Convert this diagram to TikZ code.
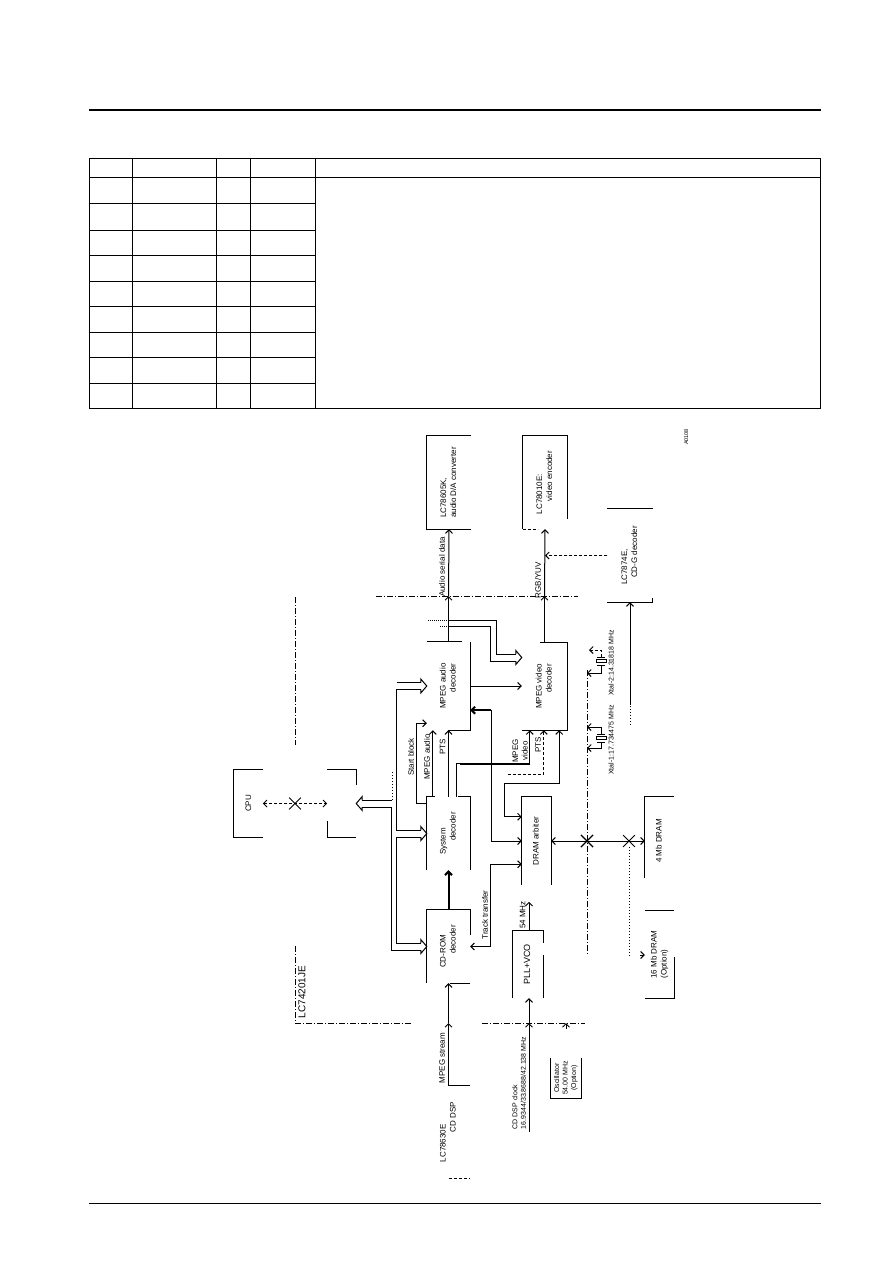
\documentclass[tikz,border=0pt]{standalone}
\usepackage{graphicx}
\usepackage{fontspec}
\setmainfont{Liberation Sans}
\usetikzlibrary{arrows.meta,shapes.misc,calc}
\newcommand{\vtext}[2][l]{\rotatebox{90}{\begin{tabular}{@{}#1@{}}#2\end{tabular}}}
\tikzstyle{blockbox} = [rectangle, inner sep=0pt, font=\fontsize{8}{10}\selectfont]
\tikzstyle{siglabel} = [inner sep=0pt, font=\fontsize{8}{9.5}\selectfont]
\tikzstyle{smalllabel} = [inner sep=0pt, font=\fontsize{7}{8.5}\selectfont]
\tikzstyle{sig} = [line width=1pt]
\tikzstyle{heavy} = [line width=2pt]
\tikzstyle{chipline} = [line width=1pt, dash pattern=on 6pt off 2pt on 1pt off 2pt]
\tikzstyle{crossmark} = [cross out, draw, line width=0.8pt, inner sep=0pt, minimum size=11pt]
\tikzset{
  bushead/.pic={\draw[sig] (-6,-3.5) -- (-6,-7) -- (0,0) -- (-6,7) -- (-6,3.5);},
  xtalsym/.pic={
    \draw[sig] (-4,-4) -- (4,-4) (-4,4) -- (4,4);
    \draw[sig] (-5,-1.5) rectangle (5,1.5);}
}

\begin{document}
\begin{tikzpicture}[x=1pt, y=-1pt, >={Straight Barb[length=3.5pt,width=7pt]}]
\useasboundingbox (0,0) rectangle (892,1261);
\fill[white] (0,0) rectangle (892,1261);

% Page rules
\draw[heavy] (89,110) -- (821,110);
\draw[sig] (89,1203) -- (821,1203);

% Table grid
\draw[sig] (89.5,158.5) rectangle (820.5,408);
\draw[sig] (89.5,177) -- (820.5,177);
\foreach \rowy in {203,230,255,281,306,332,357,383}
  \draw[sig] (89.5,\rowy) -- (315,\rowy);
\foreach \colx in {132,216,250,315}
  \draw[sig] (\colx,158.5) -- (\colx,408);

% Chip boundary
\coordinate (chiptop) at (376,596);
\coordinate (chipbot) at (482,1023);
\coordinate (chipright) at (587,670);
\draw[chipline] (chiptop) -- (578,596);
\draw[chipline] (295,597) -- (295,745);
\draw[chipline] (295,946) -- (295,1023) -- (412,1023);
\draw[chipline] (chipbot) -- (585,1023);
\draw[chipline] (chipright) -- (587,955);
\node[inner sep=0pt, font=\fontsize{10}{12}\selectfont] (chipname) at (303,992) {\vtext{LC74201JE}};
\node[inner sep=0pt, font=\fontsize{5.5}{6}\selectfont] (figcode) at (687,437) {\vtext{A0108}};

% Blocks
\node[blockbox, minimum width=44pt, minimum height=93pt] (audiodac) at (449,482.5) {\vtext{LC78605K,\\audio D/A converter}};
\node[blockbox, minimum width=44pt, minimum height=93pt] (encoder) at (545,482.5) {\vtext{LC78010E:\\\hspace*{13pt}video encoder}};
\node[blockbox, minimum width=45pt, minimum height=93pt] (cdg) at (630,555.5) {\vtext{LC7874E,\\\hspace*{7pt}CD-G decoder}};
\node[blockbox, minimum width=43pt, minimum height=88pt] (audio) at (448.5,686) {\vtext[r]{MPEG audio\\decoder}};
\node[blockbox, minimum width=45pt, minimum height=87pt] (video) at (544.5,686.5) {\vtext[r]{MPEG video\\decoder}};
\node[blockbox, minimum width=43pt, minimum height=73pt] (system) at (448.5,833.5) {\vtext{System\\\hspace*{14pt}decoder}};
\node[blockbox, minimum width=43pt, minimum height=73pt] (cdrom) at (448.5,946.5) {\vtext{CD-ROM\\\hspace*{14pt}decoder}};
\node[blockbox, minimum width=29pt, minimum height=88pt] (arbiter) at (536.5,841) {\vtext{DRAM arbiter}};
\node[blockbox, minimum width=30pt, minimum height=67pt, font=\fontsize{9}{11}\selectfont] (pll) at (528,964.5) {\vtext{PLL+VCO}};
\node[blockbox, minimum width=29pt, minimum height=88pt] (dramfour) at (659.5,841) {\vtext{4 Mb DRAM}};
\node[blockbox, minimum width=29pt, minimum height=87pt] (dramsix) at (659.5,954.5) {\vtext{16 Mb DRAM\\(Option)}};
\node[blockbox, minimum width=122pt, minimum height=67pt] (cpu) at (295,803.5) {};
\node[blockbox] (cpulabel) at (249,803.5) {\vtext{CPU}};
\node[blockbox, minimum width=43pt, minimum height=92pt] (cddsp) at (448.5,1132) {\vtext{LC78630E\\\hspace*{30pt}CD DSP}};
\node[blockbox, minimum width=30pt, minimum height=40pt, font=\fontsize{7}{8.5}\selectfont] (osc) at (566,1078) {\vtext[c]{Oscillator\\54.00 MHz\\(Option)}};

% Block outlines
\draw[sig] (audiodac.north east) -- (audiodac.north west) -- (audiodac.south west) -- (audiodac.south east);
\draw[sig] ([yshift=10pt]encoder.south east) -- (encoder.north east) -- (encoder.north west) -- (encoder.south west);
\draw[sig, densely dashed] (encoder.south west) -- ++(15,0);
\draw[sig] (cdg.north west) -- (cdg.north east);
\draw[sig] (cdg.south west) -- (cdg.south east) -- ++(0,-4);
\draw[sig] (audio.north west) -- ([xshift=-8pt]audio.north east);
\draw[sig] (audio.north east) -- (audio.south east) -- ([xshift=-22pt]audio.south east);
\draw[sig] ([xshift=18pt]video.north west) -- (video.north east) -- (video.south east) -- (video.south west);
\draw[sig] (system.south west) -- (system.north west) -- ([xshift=8pt]system.north west);
\draw[sig] ([xshift=-12pt]system.north east) -- (system.north east) -- (system.south east);
\draw[sig] ([yshift=-25pt]cdrom.north east) -- (cdrom.north east) -- (cdrom.north west) -- (cdrom.south west);
\draw[sig] ([xshift=-20pt]cdrom.south east) -- (cdrom.south east);
\draw[sig] (arbiter.south west) -- (arbiter.north west) -- (arbiter.north east) -- (arbiter.south east);
\draw[sig] ([yshift=-12pt]pll.north east) -- (pll.north east) -- (pll.north west) -- (pll.south west);
\draw[sig] ([yshift=-24pt]pll.north east) -- (pll.south east);
\draw[sig] (dramfour.north east) -- (dramfour.north west) -- ([yshift=7pt]dramfour.south west);
\draw[sig] (dramsix.north west) -- (dramsix.north east);
\draw[sig] ([yshift=41pt]dramsix.south east) -- (dramsix.south east) -- (dramsix.south west);
\draw[sig] (osc.north west) -- (osc.south west) -- (osc.south east) -- (osc.north east);
\draw[sig] ([xshift=-21pt]cddsp.north east) -- (cddsp.north east);
\draw[sig, densely dashed] ([xshift=-21pt]cddsp.south east) -- (cddsp.south east);
\draw[sig] ([xshift=29pt]cpu.north west) -- (cpu.north west) -- (cpu.south west) -- ([xshift=29pt]cpu.south west);
\draw[sig] ([xshift=-29pt]cpu.north east) -- (cpu.north east) -- ([yshift=-15pt]cpu.north east);
\draw[sig] ([xshift=-29pt,yshift=16pt]cpu.south east) -- ([xshift=-29pt]cpu.south east) -- (cpu.south east);

% CPU port
\node[crossmark] (cpucross) at (cpu.center) {};
\draw[sig, densely dashed, <->] ([xshift=29pt]cpu.west) -- ([xshift=-29pt]cpu.east);

% Host bus
\draw[sig] ([xshift=-6pt,yshift=3.5pt]cdrom.west) -- ++(-24,0) |- ([xshift=-6pt,yshift=-3.5pt]system.west);
\draw[sig] ([xshift=-6pt,yshift=3.5pt]system.west) -- ++(-24,0) |- ([xshift=-6pt,yshift=-3.5pt]audio.west);
\draw[sig] ([xshift=-6pt,yshift=3.5pt]audio.west) -- ++(-24,0);
\draw[sig] ([xshift=-6pt,yshift=-3.5pt]cdrom.west) -- ++(-29,0) |- ([xshift=6pt,yshift=-3.5pt]cpu.east);
\draw[sig] ([xshift=6pt,yshift=3.5pt]cpu.east) -- ++(30,0);
\draw[sig, dotted] ([xshift=36pt,yshift=3.5pt]cpu.east) -- ++(0,-30);
\pic at (cdrom.west) {bushead};
\pic at (system.west) {bushead};
\pic at (audio.west) {bushead};
\pic[rotate=180] at (cpu.east) {bushead};

% Audio to video bus
\draw[sig] ([xshift=-6pt,yshift=32.5pt]video.west) -- ++(-19,0) |- ([yshift=21pt]audio.north);
\draw[sig] ([xshift=-6pt,yshift=25.5pt]video.west) -- ++(-25,0) |- ([yshift=15pt]audio.north);
\draw[sig, densely dotted] ([yshift=21pt]audio.north) -- ++(-22,0);
\draw[sig, densely dotted] ([yshift=15pt]audio.north) -- ++(-10,0);
\pic at ([yshift=29pt]video.west) {bushead};

% Outputs
\draw[sig, ->] (audio.north) -- (audio.north |- chiptop);
\draw[sig, ->] (audio.north |- chiptop) -- (audiodac.south);
\draw[sig, ->] (video.north) -- (video.north |- chiptop);
\draw[sig, ->] (video.north |- chiptop) -- (encoder.south);
\draw[sig, densely dashed, ->] (cdg.west) -- (encoder.south |- cdg.west);
\draw[sig, ->] (audio.east) -- (audio.east -| video.west);

% System decoder signals
\draw[heavy, ->] (cdrom.north) -- (system.south);
\draw[sig, ->] ([yshift=-7pt]system.north west) -- ++(-10,0) |- ([yshift=7pt]audio.south west);
\draw[sig, ->] ([xshift=6pt]system.north west) -- ([xshift=6pt]audio.south west);
\draw[sig, ->] (system.north) -- (audio.south);
\coordinate (vidin) at ([xshift=8pt]video.south west);
\coordinate (vidpts) at ([xshift=22pt]video.south west);
\coordinate (vidarb) at ([xshift=-8pt]video.south east);
\draw[sig] ([xshift=-14pt]system.north east) -- ++(0,-33) -- ++(4,0) coordinate (vidbend);
\draw[heavy] (vidbend) -- (vidin |- vidbend);
\draw[sig, ->] (vidin |- vidbend) -- (vidin);
\draw[sig, densely dashed, ->] ($(vidpts)+(-36,44)$) -| (vidpts);

% DRAM arbiter
\coordinate (audarb) at ([yshift=20pt]audio.south east);
\draw[heavy, <-] (audarb) -- ++(21,0) coordinate (audbend);
\draw[sig, ->] (audbend) |- (arbiter.west);
\draw[sig, <->] ([yshift=-20pt]arbiter.north west) -- ++(-17,0) -- ++(0,-33) -| (vidarb);
\draw[sig, <->] (cdrom.east) -- ++(20,0) |- ([yshift=21pt]arbiter.south west);
\draw[sig, ->] ([xshift=1pt]pll.north) -- ++(0,-29);
\draw[sig, <->] (arbiter.east) -- (dramfour.west);
\node[crossmark, line width=1.2pt] (busx) at (arbiter.east -| chipright) {};
\node[crossmark] (optx) at (629,841) {};
\draw[sig, dotted] (optx) -- ++(0,114) coordinate (optbend);
\draw[sig, ->, shorten <=11pt] (optbend) -- (optbend -| dramsix.west);

% Inputs
\coordinate (dspclk) at (529,1132);
\draw[sig, ->] (dspclk) -- (dspclk |- chipbot);
\draw[sig, ->] (dspclk |- chipbot) -- ([xshift=1pt]pll.south);
\draw[sig, ->] (cddsp.north) -- (cddsp.north |- chipbot);
\draw[sig, ->] (cddsp.north |- chipbot) -- (cdrom.south);
\draw[sig, ->, shorten <=29pt] (osc.north) -- (osc.north |- chipbot);
\draw[sig, ->] ($(cdg.south)+(0,103)$) -- (cdg.south);
\draw[sig, dotted] ($(cdg.south)+(0,123)$) -- ($(cdg.south)+(0,103)$);

% Crystals
\coordinate (xtalone) at (601,738);
\coordinate (xtaltwo) at (601,661);
\pic at (xtalone) {xtalsym};
\pic at (xtaltwo) {xtalsym};
\draw[sig, ->] (xtalone) ++(0,-4) -- ++(0,-7) -- ++(-14,0);
\draw[sig, ->] (xtalone) ++(0,4) -- ++(0,6) -- ++(-14,0);
\draw[sig, ->] (xtaltwo) ++(0,4) -- ++(0,8) -- ++(-14,0);
\draw[sig, densely dashed, ->] (xtaltwo) ++(0,-4) -- ++(0,-7) -- ++(-12,0);

% Signal labels
\node[siglabel] (lblserial) at (443,567) {\vtext{Audio serial data}};
\node[siglabel] (lblrgb) at (539,580) {\vtext{RGB/YUV}};
\node[siglabel] (lblstart) at (412,757) {\vtext{Start block}};
\node[siglabel] (lblmaudio) at (428,757) {\vtext{MPEG audio}};
\node[siglabel] (lblpts) at (443.5,747) {\vtext{PTS}};
\node[siglabel] (lblmvideo) at (521,751) {\vtext[c]{MPEG\\video}};
\node[siglabel] (lblptsv) at (539,745) {\vtext{PTS}};
\node[siglabel] (lbltrack) at (486,915) {\vtext{Track transfer}};
\node[siglabel] (lblmhz) at (523.5,915) {\vtext{54 MHz}};
\node[siglabel] (lblstream) at (443,1058) {\vtext{MPEG stream}};
\node[smalllabel] (lblclock) at (520,1083) {\vtext{CD DSP clock\\16.9344/33.8688/42.138 MHz}};
\node[smalllabel] (lblxone) at (612,740) {\vtext{Xtal-1:17.734475 MHz}};
\node[smalllabel] (lblxtwo) at (612,663) {\vtext{Xtal-2:14.31818 MHz}};
\end{tikzpicture}
\end{document}
